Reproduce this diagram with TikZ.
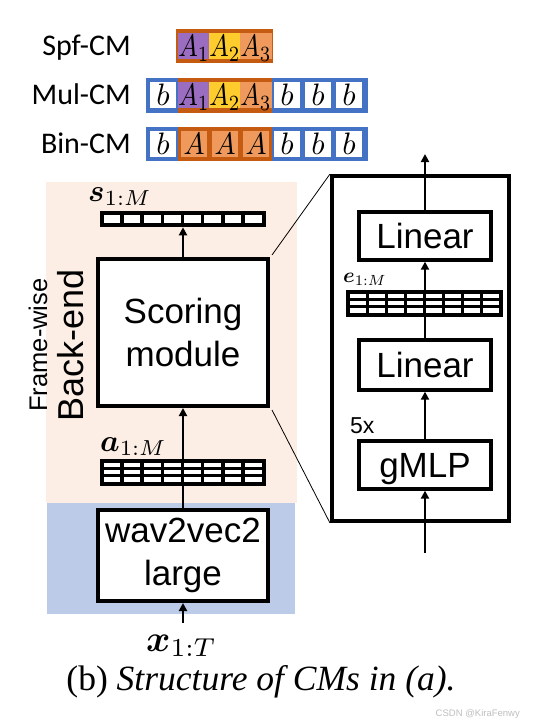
\documentclass[tikz,border=0pt]{standalone}
\usepackage{amsmath}
\usepackage[no-math]{fontspec}
\usetikzlibrary{arrows.meta}
\newfontfamily\arialf{Liberation Sans}
\newfontfamily\calf{Carlito}
\newfontfamily\timesf{Liberation Serif}
\definecolor{peach}{HTML}{FCEEE4}
\definecolor{lblue}{HTML}{BCCBE7}
\definecolor{fblue}{HTML}{4472C4}
\definecolor{forange}{HTML}{C55A11}
\definecolor{cpurp}{HTML}{9B6DC0}
\definecolor{cyell}{HTML}{FFCC2E}
\definecolor{corng}{HTML}{EF9A5C}
\newcommand\vcells[5]{%
  \pgfmathsetmacro\cw{(#3-8-7*3.5)/8}%
  \pgfmathsetmacro\rh{(#4-8-(#5-1)*3)/#5}%
  \foreach \i in {0,...,7}{\foreach \j in {1,...,#5}{%
    \fill[white] ({#1+4+\i*(\cw+3.5)},{#2+4+(\j-1)*(\rh+3)}) rectangle ++(\cw,\rh);}}%
}
\newcommand\mymath[2]{\scalebox{#1}{$#2$}}
\newcommand\cellA[1]{\scalebox{2.6}[3.1]{$A_{#1}$}}
\begin{document}
\begin{tikzpicture}[x=1pt,y=-1pt,
  rowlab/.style={anchor=base east,inner sep=0pt,font=\calf\fontsize{30}{36}\selectfont},
  frame/.style={inner sep=0pt,draw=none,minimum height=35pt},
  cellbox/.style={inner sep=0pt,draw=none,minimum width=26pt,minimum height=26pt,
     text height=21pt,text depth=0pt},
  blk/.style={draw=black,line width=4pt,fill=white,inner sep=0pt,align=center,
     font=\arialf\fontsize{35}{43}\selectfont},
  vecbox/.style={fill=black,draw=none,inner sep=0pt},
  conn/.style={line width=2.3pt,-{Triangle[length=8pt,width=8pt]}},
  zoomln/.style={line width=0.8pt},
  mlab/.style={anchor=base west,inner sep=0pt}]
\useasboundingbox (0,0) rectangle (535,723);
\fill[white] (0,0) rectangle (535,723);

% ---- top rows
\node[rowlab] (spflab) at (131,55.7) {Spf-CM};
\node[rowlab] (mullab) at (131,104.7) {Mul-CM};
\node[rowlab] (binlab) at (131,153.7) {Bin-CM};

\node[frame,fill=forange,minimum width=97pt,minimum height=34pt] (spfframe) at (224.5,46) {};
\node[cellbox,fill=cpurp] (s1) at (194,46) {\cellA{1}};
\node[cellbox,fill=cyell] (s2) at (225,46) {\cellA{2}};
\node[cellbox,fill=corng] (s3) at (256,46) {\cellA{3}};

\node[frame,fill=fblue,minimum width=222pt] (mulblue) at (257,95) {};
\node[frame,fill=forange,minimum width=94pt] (mulorng) at (224.5,95) {};
\node[cellbox,fill=white] (m0) at (163,95) {\mymath{3.1}{b}};
\node[cellbox,fill=cpurp] (m1) at (194,95) {\cellA{1}};
\node[cellbox,fill=cyell] (m2) at (225,95) {\cellA{2}};
\node[cellbox,fill=corng] (m3) at (256,95) {\cellA{3}};
\node[cellbox,fill=white] (m4) at (287,95) {\mymath{3.1}{b}};
\node[cellbox,fill=white] (m5) at (318,95) {\mymath{3.1}{b}};
\node[cellbox,fill=white] (m6) at (349,95) {\mymath{3.1}{b}};

\node[frame,fill=fblue,minimum width=222pt,minimum height=34pt] (binblue) at (257,144) {};
\node[frame,fill=forange,minimum width=94pt,minimum height=34pt] (binorng) at (224.5,144) {};
\node[cellbox,fill=white] (b0) at (163,144) {\mymath{3.1}{b}};
\node[cellbox,fill=corng] (b1) at (194,144) {\scalebox{2.8}[3.1]{$A$}};
\node[cellbox,fill=corng] (b2) at (225,144) {\scalebox{2.8}[3.1]{$A$}};
\node[cellbox,fill=corng] (b3) at (256,144) {\scalebox{2.8}[3.1]{$A$}};
\node[cellbox,fill=white] (b4) at (287,144) {\mymath{3.1}{b}};
\node[cellbox,fill=white] (b5) at (318,144) {\mymath{3.1}{b}};
\node[cellbox,fill=white] (b6) at (349,144) {\mymath{3.1}{b}};

% ---- left structure
\fill[peach] (46,181.5) rectangle (297,503);
\fill[lblue] (46.5,503) rectangle (295,614);

\node[rotate=90,anchor=base,inner sep=0pt,font=\arialf\fontsize{25.5}{30}\selectfont] (fw) at (47,345) {Frame-wise};
\node[rotate=90,anchor=base,inner sep=0pt,font=\arialf\fontsize{36}{42}\selectfont] (be) at (83,345) {Back-end};

\node[blk,minimum width=170pt,minimum height=147pt] (score) at (183,332.5) {Scoring\\module};
\node[blk,minimum width=170pt,minimum height=91pt] (wav) at (183,555.5) {wav2vec2\\large};

\coordinate (xin) at (183,623);
\coordinate (sin) at (183,227.3);
\draw[conn] (xin) -- (wav);
\draw[conn] (wav) -- (score);
\draw[conn] (score) -- (sin);

\node[vecbox,minimum width=166pt,minimum height=16.6pt] (svec) at (182.5,219) {};
\vcells{99.5}{210.7}{166}{16.6}{1}
\node[vecbox,minimum width=166pt,minimum height=26.7pt] (avec) at (182.5,472.3) {};
\vcells{99.5}{459}{166}{26.7}{3}

\node[mlab] (slab) at (88,201) {\mymath{3.1}{\boldsymbol{s}_{1:M}}};
\node[mlab] (alab) at (100,451) {\mymath{3.1}{\boldsymbol{a}_{1:M}}};
\node[mlab] (xlab) at (146,651) {\mymath{3.7}{\boldsymbol{x}_{1:T}}};

% ---- right panel
\node[draw=black,line width=4pt,fill=white,minimum width=177pt,minimum height=345pt,inner sep=0pt] (panel) at (420.5,348.5) {};
\draw[zoomln] (score.north east) ++(2,-2) -- (panel.north west);
\draw[zoomln] (score.south east) ++(2,2) -- (panel.south west);

\node[blk,minimum width=132.6pt,minimum height=47.7pt,text height=25pt,text depth=0pt] (lin1) at (425,235.8) {Linear};
\node[blk,minimum width=132.6pt,minimum height=49.7pt,text height=25pt,text depth=0pt] (lin2) at (425,364.8) {Linear};
\node[blk,minimum width=132.6pt,minimum height=47.7pt,text height=25pt,text depth=0pt] (gmlp) at (425,464.8) {gMLP};

\coordinate (outtop) at (425,154);
\coordinate (inbot) at (425,553);
\draw[conn,line width=2pt] (lin1) -- (outtop);
\draw[conn,line width=2pt] (inbot) -- (gmlp);
\draw[conn,line width=2pt] (gmlp) -- (lin2);
\draw[conn,line width=2pt] (lin2) -- (lin1);

\node[vecbox,minimum width=156.7pt,minimum height=26.7pt] (evec) at (424.3,303.3) {};
\vcells{346}{290}{156.7}{26.7}{3}
\node[mlab] (elab) at (343,282) {\mymath{2.1}{\boldsymbol{e}_{1:M}}};
\node[mlab,font=\arialf\fontsize{23}{28}\selectfont] (rep) at (350,433) {5x};

% ---- caption
\node[anchor=base,inner sep=0pt,font=\timesf\fontsize{35.5}{42}\selectfont] (cap) at (261,690) {(b) \textit{Structure of CMs in (a).}};
\node[anchor=base east,inner sep=0pt,font=\arialf\fontsize{9.5}{11}\selectfont,text=black!25] (wm) at (520,716) {CSDN @KiraFenwy};
\end{tikzpicture}
\end{document}
